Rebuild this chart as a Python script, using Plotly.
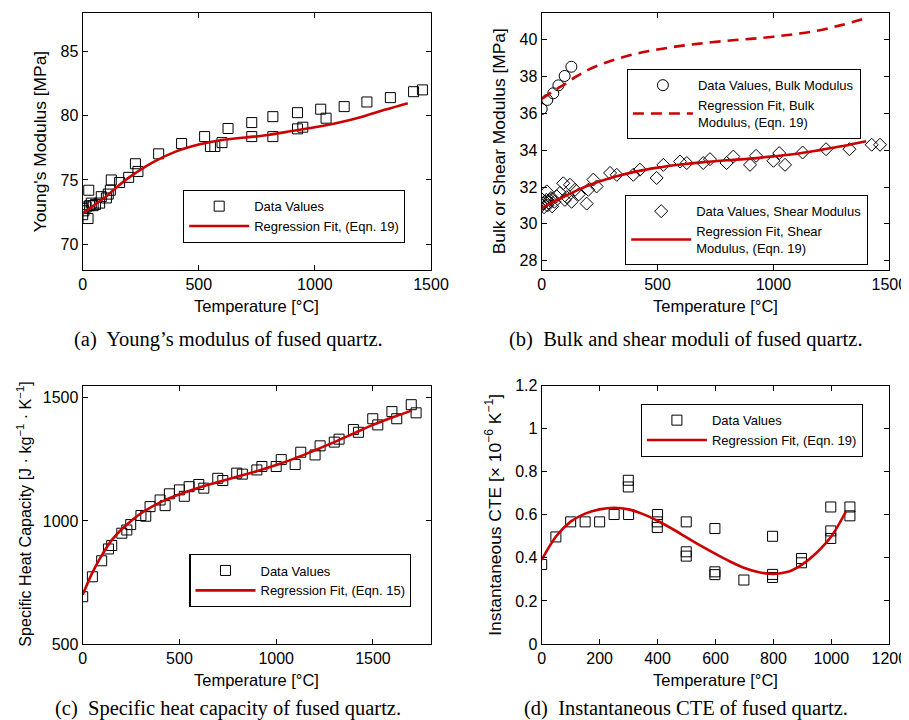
import plotly.graph_objects as go

# ---------------- (a) Young's modulus ----------------
young_T = [0, 0, 5, 15, 23, 26, 30, 37, 45, 55, 73, 80, 102, 110, 119, 123, 159, 198, 227, 238,
           327, 426, 525, 550, 569, 600, 626, 728, 728, 819, 819, 925, 925, 948, 1025, 1048,
           1126, 1224, 1325, 1425, 1463]
young_E = [72.3, 72.8, 72.6, 72.9, 72.0, 74.2, 73.0, 73.2, 73.0, 73.1, 73.2, 73.7, 73.6, 73.9, 74.2, 75.0, 74.8, 75.2, 76.26, 75.66,
           77.03, 77.83, 78.37, 77.6, 77.6, 77.9, 79.0, 79.46, 78.37, 79.92, 78.37, 80.23, 78.97, 79.1, 80.5, 79.8,
           80.7, 81.06, 81.4, 81.86, 82.0]
young_fit_T = [0, 50, 100, 150, 200, 300, 400, 500, 600, 700, 800, 900, 1000, 1100, 1200, 1300, 1400]
young_fit_E = [72.4, 73.05, 73.7, 74.5, 75.2, 76.35, 77.2, 77.75, 78.1, 78.3, 78.5, 78.8, 79.1, 79.45, 79.9, 80.45, 80.97]

# ---------------- (b) Bulk and shear moduli ----------------
bulk_T = [0, 24, 50, 72, 99, 128]
bulk_K = [36.23, 36.72, 37.08, 37.51, 38.02, 38.52]
bulk_fit_T = [0, 50, 100, 150, 200, 300, 400, 500, 600, 700, 800, 900, 1000, 1100, 1200, 1300, 1400]
bulk_fit_K = [36.77, 37.2, 37.58, 38.0, 38.35, 38.85, 39.2, 39.45, 39.65, 39.8, 39.93, 40.03, 40.15, 40.3, 40.5, 40.8, 41.15]

shear_T = [0, 5, 10, 15, 20, 22, 25, 30, 35, 40, 45, 55, 65, 79, 93, 100, 108, 122, 129, 144, 160,
           194, 201, 223, 237, 295, 324, 395, 424, 496, 525, 597, 626, 697, 726, 798, 827, 899, 925,
           1000, 1025, 1050, 1126, 1227, 1328, 1424, 1460]
shear_G = [31.0, 31.1, 30.9, 31.2, 31.3, 31.76, 31.0, 31.15, 31.3, 31.4, 30.95, 31.2, 31.5, 31.68, 32.2, 31.3, 31.45, 32.12, 31.2, 31.85, 31.6,
           31.1, 31.85, 32.4, 32.03, 32.76, 32.66, 32.66, 32.94, 32.49, 33.2, 33.38, 33.3, 33.3, 33.51, 33.3, 33.65, 33.2, 33.69,
           33.42, 33.84, 33.2, 33.87, 34.05, 34.05, 34.29, 34.29]
shear_fit_T = [0, 50, 100, 150, 200, 300, 400, 500, 600, 700, 800, 900, 1000, 1100, 1200, 1300, 1400]
shear_fit_G = [30.85, 31.2, 31.5, 31.8, 32.08, 32.5, 32.82, 33.05, 33.22, 33.35, 33.45, 33.54, 33.66, 33.8, 34.0, 34.22, 34.48]

# ---------------- (c) Specific heat capacity ----------------
cp_T = [0, 50, 98, 133, 150, 202, 228, 248, 301, 326, 348, 400, 426, 448, 500, 525, 550, 600, 626,
        698, 724, 796, 825, 900, 926, 1000, 1026, 1098, 1127, 1201, 1227, 1300, 1325, 1399, 1425,
        1499, 1525, 1598, 1623, 1698, 1723]
cp_val = [692, 773, 838, 886, 900, 950, 963, 985, 1022, 1019, 1058, 1085, 1062, 1110, 1126, 1100, 1139, 1148, 1133,
          1173, 1164, 1194, 1190, 1207, 1221, 1221, 1249, 1229, 1279, 1268, 1305, 1320, 1332, 1371, 1360,
          1415, 1390, 1444, 1415, 1472, 1439]
cp_fit_T = [0, 50, 100, 150, 200, 250, 300, 400, 500, 600, 700, 800, 900, 1000, 1100, 1200, 1300, 1400, 1500, 1600, 1700]
cp_fit_val = [700, 790, 862, 922, 965, 1000, 1030, 1075, 1108, 1135, 1158, 1180, 1202, 1227, 1255, 1287, 1320, 1355, 1390, 1420, 1448]

# ---------------- (d) Instantaneous CTE ----------------
cte_T = [0, 49, 100, 150, 200, 250, 300, 299, 299, 400, 399, 399, 499, 499, 499, 598, 598, 598, 698,
         797, 797, 797, 897, 897, 998, 998, 998, 1064, 1064]
cte_val = [0.369, 0.497, 0.567, 0.567, 0.567, 0.601, 0.601, 0.729, 0.760, 0.601, 0.567, 0.541, 0.567, 0.428, 0.408, 0.536, 0.335, 0.322, 0.297,
           0.50, 0.323, 0.309, 0.397, 0.377, 0.636, 0.525, 0.49, 0.636, 0.595]
cte_fit_T = [0, 50, 100, 150, 200, 250, 300, 350, 400, 450, 500, 550, 600, 650, 700, 750, 800, 850, 900, 950, 1000, 1050]
cte_fit_val = [0.39, 0.50, 0.568, 0.605, 0.625, 0.632, 0.625, 0.603, 0.572, 0.535, 0.495, 0.455, 0.418, 0.383, 0.353, 0.333,
               0.325, 0.335, 0.37, 0.425, 0.5, 0.615]

captions = ["(a)\u00a0 Young\u2019s modulus of fused quartz.",
            "(b)\u00a0 Bulk and shear moduli of fused quartz.",
            "(c)\u00a0 Specific heat capacity of fused quartz.",
            "(d)\u00a0 Instantaneous CTE of fused quartz."]
x_title = "Temperature [\u00b0C]"
y_titles = ["Young's Modulus [MPa]",
            "Bulk or Shear Modulus [MPa]",
            "Specific Heat Capacity [J \u00b7 kg<sup>\u22121</sup> \u00b7 K<sup>\u22121</sup>]",
            "Instantaneous CTE [\u00d7 10<sup>\u22126</sup> K<sup>\u22121</sup>]"]

W, H = 909, 720
OFF = 8          # the page body adds an 8 px margin on the top-left
FW, FH = W - OFF, H - OFF
RED = "#cc0000"
SANS = "Liberation Sans, Arial, sans-serif"
SERIF = "Liberation Serif, Times New Roman, serif"


def px(x):
    return (x - OFF) / FW


def py(y):
    return 1 - (y - OFF) / FH


fig = go.Figure()

sq = dict(symbol="square-open", size=10, color="black", line=dict(width=1))
FITW = 2.6

# (a)
fig.add_trace(go.Scatter(x=young_T, y=young_E, mode="markers", marker=sq, name="Data Values",
                         xaxis="x", yaxis="y", legend="legend"))
fig.add_trace(go.Scatter(x=young_fit_T, y=young_fit_E, mode="lines", line=dict(color=RED, width=FITW, shape="spline"),
                         name="Regression Fit, (Eqn. 19)", xaxis="x", yaxis="y", legend="legend"))
# (b)
fig.add_trace(go.Scatter(x=bulk_T, y=bulk_K, mode="markers",
                         marker=dict(symbol="circle-open", size=11, color="black", line=dict(width=1)),
                         name="Data Values, Bulk Modulus", xaxis="x2", yaxis="y2", legend="legend2"))
fig.add_trace(go.Scatter(x=bulk_fit_T, y=bulk_fit_K, mode="lines",
                         line=dict(color=RED, width=FITW, dash="11px,7px", shape="spline"),
                         name="Regression Fit, Bulk<br>Modulus, (Eqn. 19)", xaxis="x2", yaxis="y2", legend="legend2"))
fig.add_trace(go.Scatter(x=shear_T, y=shear_G, mode="markers",
                         marker=dict(symbol="diamond-open", size=10, color="black", line=dict(width=1)),
                         name="Data Values, Shear Modulus", xaxis="x2", yaxis="y2", legend="legend3"))
fig.add_trace(go.Scatter(x=shear_fit_T, y=shear_fit_G, mode="lines",
                         line=dict(color=RED, width=FITW, shape="spline"),
                         name="Regression Fit, Shear<br>Modulus, (Eqn. 19)", xaxis="x2", yaxis="y2", legend="legend3"))
# (c)
fig.add_trace(go.Scatter(x=cp_T, y=cp_val, mode="markers", marker=sq, name="Data Values",
                         xaxis="x3", yaxis="y3", legend="legend4"))
fig.add_trace(go.Scatter(x=cp_fit_T, y=cp_fit_val, mode="lines", line=dict(color=RED, width=FITW, shape="spline"),
                         name="Regression Fit, (Eqn. 15)", xaxis="x3", yaxis="y3", legend="legend4"))
# (d)
fig.add_trace(go.Scatter(x=cte_T, y=cte_val, mode="markers", marker=sq, name="Data Values",
                         xaxis="x4", yaxis="y4", legend="legend5"))
fig.add_trace(go.Scatter(x=cte_fit_T, y=cte_fit_val, mode="lines", line=dict(color=RED, width=FITW, shape="spline"),
                         name="Regression Fit, (Eqn. 19)", xaxis="x4", yaxis="y4", legend="legend5"))


def axis(domain, rng, anchor, tickvals):
    return dict(domain=domain, range=rng, tickvals=tickvals, showgrid=False, zeroline=False, showline=True,
                linecolor="black", linewidth=1.2, mirror="ticks", ticks="inside", ticklen=5, tickwidth=1,
                tickcolor="black", automargin=False, fixedrange=True,
                tickfont=dict(family=SANS, size=16, color="black"), anchor=anchor)


# plot-area edges in window pixels (left, right, top, bottom)
LX = (82.7, 431.0)
RX = (541.7, 889.3)
TY = (12.7, 270.0)
BY = (385.5, 644.0)

layout = dict(
    template="none",
    width=FW, height=FH, margin=dict(l=0, r=0, t=0, b=0, pad=0),
    paper_bgcolor="white", plot_bgcolor="white",
    xaxis=axis([px(LX[0]), px(LX[1])], [0, 1500], "y", [0, 500, 1000, 1500]),
    yaxis=axis([py(TY[1]), py(TY[0])], [68, 88], "x", [70, 75, 80, 85]),
    xaxis2=axis([px(RX[0]), px(RX[1])], [0, 1500], "y2", [0, 500, 1000, 1500]),
    yaxis2=axis([py(TY[1]), py(TY[0])], [27.5, 41.45], "x2", [28, 30, 32, 34, 36, 38, 40]),
    xaxis3=axis([px(LX[0]), px(LX[1])], [0, 1800], "y3", [0, 500, 1000, 1500]),
    yaxis3=axis([py(BY[1]), py(BY[0])], [500, 1550], "x3", [500, 1000, 1500]),
    xaxis4=axis([px(RX[0]), px(RX[1])], [0, 1200], "y4", [0, 200, 400, 600, 800, 1000, 1200]),
    yaxis4=axis([py(BY[1]), py(BY[0])], [0, 1.2], "x4", [0, 0.2, 0.4, 0.6, 0.8, 1.0, 1.2]),
    showlegend=True,
)


def leg(x, y):
    return dict(x=px(x), y=py(y), xanchor="left", yanchor="top", xref="paper", yref="paper",
                bgcolor="white", bordercolor="black", borderwidth=1.2,
                font=dict(family=SANS, size=13, color="black"), itemwidth=60, tracegroupgap=0)


layout["legend"] = leg(183, 190)
layout["legend2"] = leg(626.7, 69)
layout["legend3"] = leg(625, 195)
layout["legend4"] = leg(189.3, 554.3)
layout["legend5"] = leg(640.7, 404)

anns = []
# captions
cap_pos = [(228, 339), (686, 339), (228, 708), (686, 708)]
for text, (cx, cy) in zip(captions, cap_pos):
    anns.append(dict(text=text, x=px(cx), y=py(cy), xref="paper", yref="paper", showarrow=False,
                     xanchor="center", yanchor="middle", font=dict(family=SERIF, size=20.5, color="black")))
# x-axis titles
xt_pos = [(sum(LX) / 2, 306), (sum(RX) / 2, 306), (sum(LX) / 2, 680), (sum(RX) / 2, 680)]
for (cx, cy) in xt_pos:
    anns.append(dict(text=x_title, x=px(cx), y=py(cy), xref="paper", yref="paper", showarrow=False,
                     xanchor="center", yanchor="middle", font=dict(family=SANS, size=16.5, color="black")))
# y-axis titles
yt_pos = [(40, sum(TY) / 2, 17.4), (499, sum(TY) / 2, 17.4), (24, sum(BY) / 2, 16.1), (493, sum(BY) / 2, 17.4)]
for text, (cx, cy, fs) in zip(y_titles, yt_pos):
    anns.append(dict(text=text, x=px(cx), y=py(cy), xref="paper", yref="paper", showarrow=False,
                     textangle=-90, xanchor="center", yanchor="middle",
                     font=dict(family=SANS, size=fs, color="black")))
layout["annotations"] = anns

fig.update_layout(**layout)
fig.write_html("out.html")
